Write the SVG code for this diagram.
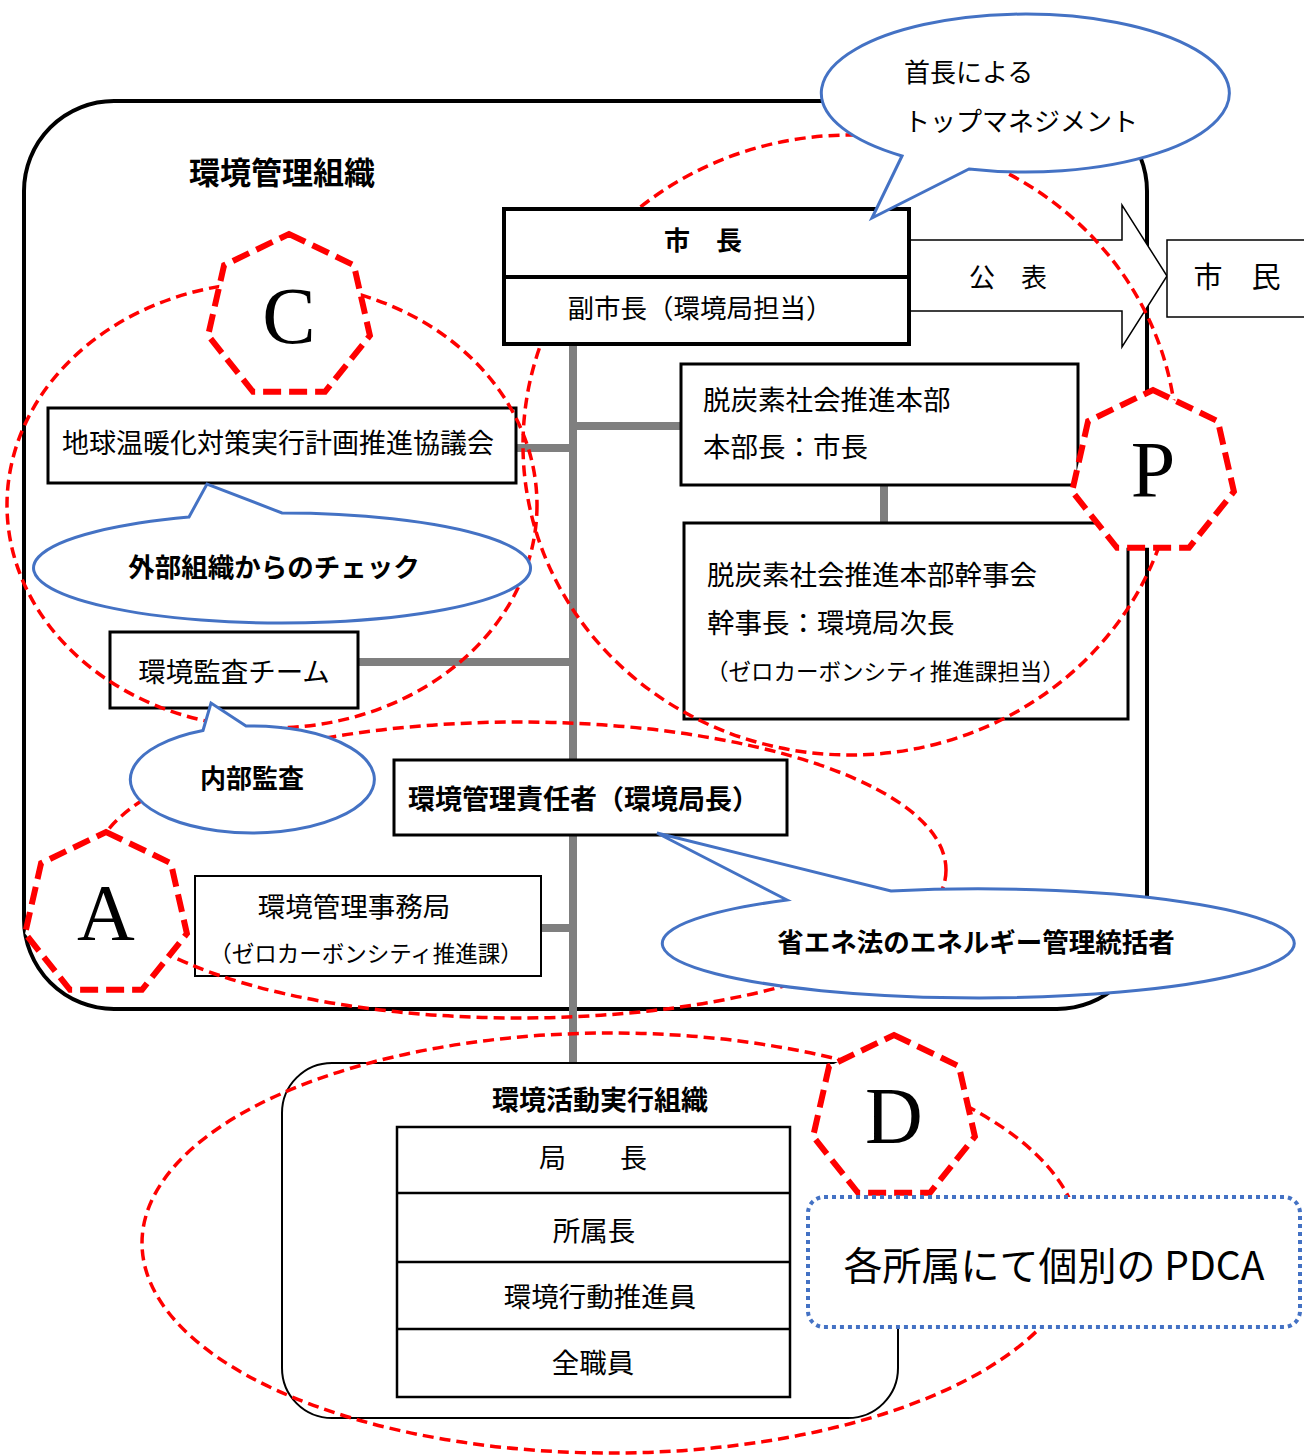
<svg xmlns="http://www.w3.org/2000/svg" width="1304" height="1455" viewBox="0 0 1304 1455">
<defs>
<style>
text{font-family:"Noto Sans CJK JP","Noto Sans",sans-serif;fill:#000;font-size:27.5px}
.b{font-weight:bold}
.s{font-size:22.5px}
.m{text-anchor:middle}
.box{fill:#fff;stroke:#000;stroke-width:3}
.thin{fill:#fff;stroke:#000;stroke-width:2}
.gray{stroke:#7f7f7f;stroke-width:8;fill:none}
.red{fill:none;stroke:#f00;stroke-width:3.5;stroke-dasharray:11 6}
.hep{fill:#fff;stroke:#f00;stroke-width:6;stroke-dasharray:18 8}
.call{fill:#fff;stroke:#4472c4;stroke-width:3;stroke-linejoin:miter}
.ltr{font-family:"Liberation Serif","Times New Roman",serif;font-size:80px;text-anchor:middle}
</style>
<polygon id="hep" points="0,-83 64.9,-51.8 80.9,18.5 36,74.8 -36,74.8 -80.9,18.5 -64.9,-51.8"/>
</defs>
<rect width="1304" height="1455" fill="#fff"/>

<g id="frame">
<rect x="24" y="101" width="1123" height="908" rx="90" fill="none" stroke="#000" stroke-width="4"/>
<text x="189" y="184" class="b" style="font-size:31px">環境管理組織</text>
</g>

<g id="connectors">
<line class="gray" x1="573" y1="344" x2="573" y2="1063"/>
<line class="gray" x1="573" y1="426" x2="681" y2="426"/>
<line class="gray" x1="516" y1="448" x2="573" y2="448"/>
<line class="gray" x1="358" y1="662" x2="573" y2="662"/>
<line class="gray" x1="541" y1="928" x2="573" y2="928"/>
<line class="gray" x1="884" y1="485" x2="884" y2="523"/>
<polygon id="arrow-kohyo" points="910,240 1122,240 1122,205 1167,276 1122,347 1122,311 910,311" fill="#fff" stroke="#000" stroke-width="1.5"/>
<text x="1008" y="287" class="m" style="font-size:26px">公　表</text>
</g>

<g id="shimin">
<rect x="1167" y="240" width="140" height="77" fill="#fff" stroke="#000" stroke-width="1.5"/>
<text x="1237" y="288" class="m" style="font-size:29px">市　民</text>
</g>

<g id="kyogikai">
<rect class="box" x="48" y="408" width="468" height="75"/>
<text x="62" y="453" style="font-size:27px">地球温暖化対策実行計画推進協議会</text>
</g>

<g id="honbu">
<rect class="box" x="681" y="364" width="397" height="121"/>
<text x="703" y="410">脱炭素社会推進本部</text>
<text x="703" y="457">本部長：市長</text>
</g>

<g id="kanjikai">
<rect class="box" x="684" y="523" width="444" height="196"/>
<text x="707" y="585">脱炭素社会推進本部幹事会</text>
<text x="707" y="633">幹事長：環境局次長</text>
<text x="706" y="680" class="s">（ゼロカーボンシティ推進課担当）</text>
</g>

<g id="kansa-team">
<rect class="box" x="110" y="632" width="248" height="76"/>
<text x="234" y="682" class="m">環境監査チーム</text>
</g>

<g id="sekininsha">
<rect class="box" x="394" y="760" width="393" height="75"/>
<text x="408" y="809" class="b" style="font-size:27px">環境管理責任者（環境局長）</text>
</g>

<g id="jimukyoku">
<rect class="thin" x="195" y="876" width="346" height="100"/>
<text x="354" y="917" class="m">環境管理事務局</text>
<text x="366" y="962" class="m s">（ゼロカーボンシティ推進課）</text>
</g>

<g id="katsudo">
<rect x="282" y="1063" width="616" height="355" rx="50" fill="#fff" stroke="#000" stroke-width="2"/>
<text x="600" y="1110" class="b m" style="font-size:27px">環境活動実行組織</text>
<rect x="397" y="1127" width="393" height="270" fill="#fff" stroke="#000" stroke-width="2.5"/>
<line x1="397" y1="1193" x2="790" y2="1193" stroke="#000" stroke-width="2.5"/>
<line x1="397" y1="1262" x2="790" y2="1262" stroke="#000" stroke-width="2.5"/>
<line x1="397" y1="1329" x2="790" y2="1329" stroke="#000" stroke-width="2.5"/>
<text x="593" y="1168" class="m" style="font-size:27px">局　　長</text>
<text x="594" y="1241" class="m">所属長</text>
<text x="600" y="1307" class="m">環境行動推進員</text>
<text x="593" y="1373" class="m">全職員</text>
</g>

<g id="cycle-ellipses">
<ellipse class="red" cx="272" cy="505" rx="265" ry="223"/>
<ellipse class="red" cx="850" cy="445" rx="327" ry="310"/>
<ellipse class="red" cx="519" cy="870" rx="427" ry="148"/>
<ellipse class="red" cx="611" cy="1243" rx="469" ry="210"/>
</g>

<g id="shicho">
<rect x="504" y="209" width="405" height="135" fill="#fff" stroke="#000" stroke-width="4"/>
<line x1="504" y1="277" x2="909" y2="277" stroke="#000" stroke-width="4"/>
<text x="703" y="250" class="b m" style="font-size:26px">市　長</text>
<text x="700" y="318" class="m" style="font-size:26.5px">副市長（環境局担当）</text>
</g>

<g id="hep-C"><use href="#hep" x="289" y="317" class="hep"/><text x="289" y="343" class="ltr">C</text></g>
<g id="hep-P"><use href="#hep" x="1153" y="473" class="hep"/><text x="1153" y="497" class="ltr">P</text></g>
<g id="hep-A"><use href="#hep" x="106" y="915" class="hep"/><text x="106" y="940" class="ltr">A</text></g>
<g id="hep-D"><use href="#hep" x="894" y="1118" class="hep"/><text x="894" y="1143" class="ltr">D</text></g>

<g id="callout-top">
<path class="call" d="M902,156 L872,218 L969,169 A204,79 0 1 0 902,156 Z"/>
<text x="904" y="82" style="font-size:26px">首長による</text>
<text x="904" y="131" style="font-size:26px">トップマネジメント</text>
</g>

<g id="callout-gaibu">
<path class="call" d="M189,517 L207,484 L282,513 A248.5,55 0 1 1 189,517 Z"/>
<text x="274" y="577" class="b m" style="font-size:26.5px">外部組織からのチェック</text>
</g>

<g id="callout-naibu">
<path class="call" d="M203,730.5 L211,703 L246,726 A122,53.5 0 1 1 203,730.5 Z"/>
<text x="252" y="788" class="b m" style="font-size:26px">内部監査</text>
</g>

<g id="callout-shoene">
<path class="call" d="M787,900 L657,833 L891,891 A316,54.5 0 1 1 787,900 Z"/>
<text x="976" y="952" class="b m" style="font-size:26.5px">省エネ法のエネルギー管理統括者</text>
</g>

<g id="pdca">
<rect x="808" y="1197" width="492" height="130" rx="16" fill="#fff" stroke="#4472c4" stroke-width="4" stroke-dasharray="4 4"/>
<text x="1054" y="1280" class="m" style="font-size:39px">各所属にて個別の PDCA</text>
</g>
</svg>
